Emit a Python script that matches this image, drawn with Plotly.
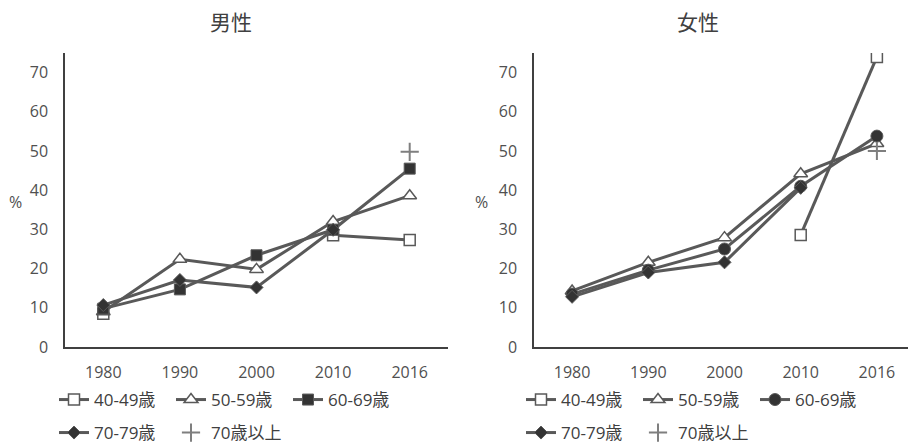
import plotly.graph_objects as go

years = ["1980", "1990", "2000", "2010", "2016"]
series_names = ["40-49歳", "50-59歳", "60-69歳", "70-79歳", "70歳以上"]

male_40_49 = [8.5, None, None, 28.5, 27.3]
male_50_59 = [9.0, 22.4, 19.8, 32.0, 38.6]
male_60_69 = [9.8, 14.7, 23.4, 29.9, 45.5]
male_70_79 = [10.7, 17.1, 15.2, 29.9, None]
male_70_plus = [None, None, None, None, 49.8]

female_40_49 = [None, None, None, 28.6, 74.0]
female_50_59 = [14.3, 21.6, 27.9, 44.2, 51.9]
female_60_69 = [13.5, 19.6, 25.0, 41.0, 53.8]
female_70_79 = [12.8, 19.0, 21.6, 40.6, None]
female_70_plus = [None, None, None, None, 50.0]

# the page adds an 8px body margin; lay out in page pixels and convert
OFF = 8
W, H = 916 - OFF, 443 - OFF

def px(x):
    return (x - OFF) / W

def py(y):
    return 1 - (y - OFF) / H

LINE = "#595959"
DARK = "#333333"
TXT = "#404040"
FONT = "Open Sans, Noto Sans CJK JP, sans-serif"

styles = [
    dict(mode="lines+markers", marker=dict(symbol="square", size=11, color="white", line=dict(color=LINE, width=1.5))),
    dict(mode="lines+markers", marker=dict(symbol="triangle-up", size=12, color="white", line=dict(color=LINE, width=1.5))),
    None,  # 60-69 differs per panel
    dict(mode="lines+markers", marker=dict(symbol="diamond", size=10, color=DARK, line=dict(color=LINE, width=1))),
    dict(mode="markers", marker=dict(symbol="cross-thin", size=13, color="#7f7f7f", line=dict(color="#7f7f7f", width=2))),
]
sq60 = dict(mode="lines+markers", marker=dict(symbol="square", size=11, color=DARK, line=dict(color=LINE, width=1)))
ci60 = dict(mode="lines+markers", marker=dict(symbol="circle", size=12, color=DARK, line=dict(color=LINE, width=1)))

fig = go.Figure()

panels = [
    ("x", "y", [male_40_49, male_50_59, male_60_69, male_70_79, male_70_plus], sq60, ("legend", "legend2")),
    ("x2", "y2", [female_40_49, female_50_59, female_60_69, female_70_79, female_70_plus], ci60, ("legend3", "legend4")),
]
for xa, ya, data, st60, lgs in panels:
    for i, (name, vals) in enumerate(zip(series_names, data)):
        st = st60 if i == 2 else styles[i]
        fig.add_trace(go.Scatter(
            x=years, y=vals, name=name, xaxis=xa, yaxis=ya,
            mode=st["mode"], marker=st["marker"],
            line=dict(color=LINE, width=3),
            connectgaps=False,
            legend=lgs[0] if i < 3 else lgs[1],
        ))

ydom = [py(347), py(53)]

axis_common_x = dict(type="category", range=[-0.5, 4.5], showline=True, linecolor=TXT, linewidth=1.5,
                     showgrid=False, zeroline=False, ticks="", ticklabelstandoff=10, automargin=False,
                     tickfont=dict(family=FONT, size=16, color="#505050"))
axis_common_y = dict(range=[0, 75], tickvals=[0, 10, 20, 30, 40, 50, 60, 70], showline=True, linecolor=TXT,
                     linewidth=1.5, showgrid=False, zeroline=False, ticks="", ticklabelstandoff=12, automargin=False,
                     tickfont=dict(family=FONT, size=16, color="#505050"))

leg_common = dict(orientation="h", bgcolor="rgba(0,0,0,0)", borderwidth=0, xanchor="left", yanchor="middle",
                  font=dict(family=FONT, size=17, color=TXT), entrywidth=72, entrywidthmode="pixels",
                  traceorder="normal")

fig.update_layout(
    width=W, height=H,
    margin=dict(l=0, r=0, t=0, b=0, autoexpand=False),
    paper_bgcolor="white", plot_bgcolor="white",
    showlegend=True,
    xaxis=dict(domain=[px(65), px(448)], anchor="y", **axis_common_x),
    yaxis=dict(domain=ydom, anchor="x", **axis_common_y),
    xaxis2=dict(domain=[px(534), px(915)], anchor="y2", **axis_common_x),
    yaxis2=dict(domain=ydom, anchor="x2", **axis_common_y),
    legend=dict(x=px(54), y=py(400), **leg_common),
    legend2=dict(x=px(54), y=py(433), **leg_common),
    legend3=dict(x=px(521), y=py(400), **leg_common),
    legend4=dict(x=px(521), y=py(433), **leg_common),
    annotations=[
        dict(text="男性", x=px(231), y=py(22), xref="paper", yref="paper", showarrow=False,
             xanchor="center", yanchor="middle", font=dict(family=FONT, size=21, color=TXT)),
        dict(text="女性", x=px(698), y=py(22), xref="paper", yref="paper", showarrow=False,
             xanchor="center", yanchor="middle", font=dict(family=FONT, size=21, color=TXT)),
        dict(text="%", x=px(15), y=py(202), xref="paper", yref="paper", showarrow=False,
             xanchor="center", yanchor="middle", font=dict(family=FONT, size=16, color="#505050")),
        dict(text="%", x=px(482), y=py(202), xref="paper", yref="paper", showarrow=False,
             xanchor="center", yanchor="middle", font=dict(family=FONT, size=16, color="#505050")),
    ],
)

fig.write_html("out.html")
